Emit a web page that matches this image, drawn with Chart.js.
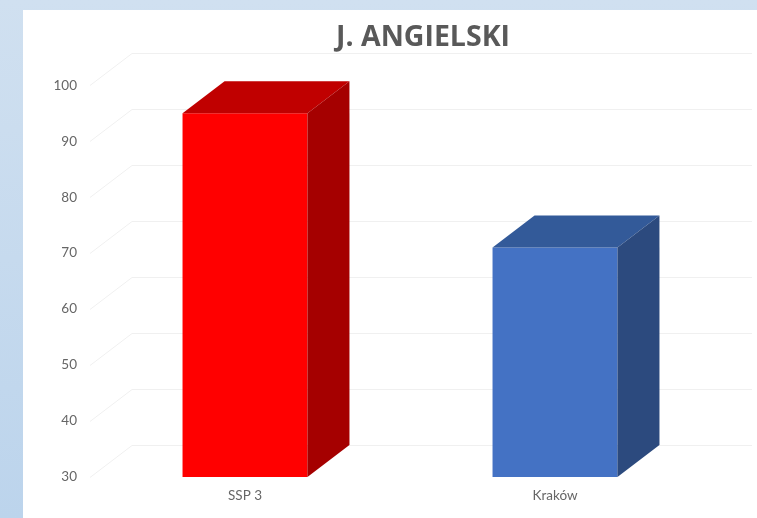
<!DOCTYPE html>
<html>
<head>
<meta charset="utf-8">
<script src="https://cdn.jsdelivr.net/npm/chart.js@4"></script>
<style>
  html, body { margin: 0; width: 757px; height: 518px; overflow: hidden; }
  body { background: linear-gradient(#d0e0f0, #bcd4ec); position: relative; }
  #panel { position: absolute; left: 23px; top: 10px; right: 0; bottom: 0; background: #fff; }
  #chart { position: absolute; left: 0; top: 0; }
</style>
</head>
<body>
<div id="panel"></div>
<canvas id="chart" width="757" height="518"></canvas>
<script>
const chartTitle = "J. ANGIELSKI";
const categories = ["SSP 3", "Kraków"];
const values = [95, 71];
const yTicks = [30, 40, 50, 60, 70, 80, 90, 100];

const frontColors = ["#ff0000", "#4472c4"];
const topColors = ["#c00000", "#335a99"];
const sideColors = ["#a50000", "#2c4a7e"];

// how far the back wall sits from the front plane
const depthX = 42;
const depthY = 32;

function face(ctx, points, color) {
  ctx.fillStyle = color;
  ctx.beginPath();
  points.forEach(p => ctx.lineTo(p[0], p[1]));
  ctx.closePath();
  ctx.fill();
}

// Fake 3D: back wall grid behind the bars, top and side faces next to them
const box3d = {
  id: "box3d",
  afterLayout(chart) {
    // centre the title over the front plane plus the depth
    chart.titleBlock.left = chart.chartArea.left;
    chart.titleBlock.right = chart.chartArea.right + depthX + 4;
  },
  beforeDatasetsDraw(chart) {
    const { ctx, chartArea, scales } = chart;
    ctx.save();
    ctx.strokeStyle = "#f0f0f0";
    ctx.lineWidth = 1;
    yTicks.forEach(v => {
      const y = Math.round(scales.y.getPixelForValue(v)) + 0.5;
      ctx.beginPath();
      ctx.moveTo(chartArea.left, y);
      ctx.lineTo(chartArea.left + depthX, y - depthY);
      ctx.lineTo(chartArea.right + depthX, y - depthY);
      ctx.stroke();
    });
    ctx.restore();
  },
  afterDatasetsDraw(chart) {
    const { ctx, chartArea } = chart;
    chart.getDatasetMeta(0).data.forEach((bar, i) => {
      const left = bar.x - bar.width / 2;
      const right = bar.x + bar.width / 2;
      // the bar base is the value 0, far under the axis minimum
      const base = Math.min(bar.base, chartArea.bottom);
      face(ctx, [[left, bar.y], [left + depthX, bar.y - depthY], [right + depthX, bar.y - depthY], [right, bar.y]], topColors[i]);
      face(ctx, [[right, bar.y], [right + depthX, bar.y - depthY], [right + depthX, base - depthY], [right, base]], sideColors[i]);
    });
  }
};

new Chart(document.getElementById("chart"), {
  type: "bar",
  data: {
    labels: categories,
    datasets: [{
      data: values,
      backgroundColor: frontColors,
      barPercentage: 0.403,
      categoryPercentage: 1
    }]
  },
  options: {
    responsive: false,
    animation: false,
    devicePixelRatio: 1,
    layout: { padding: { left: 0, right: 47, top: 0, bottom: 16 } },
    plugins: {
      legend: { display: false },
      tooltip: { enabled: false },
      title: {
        display: true,
        text: chartTitle,
        color: "#595959",
        font: { family: "Open Sans", size: 28.5, weight: "bold" },
        padding: { top: 21, bottom: 30 }
      }
    },
    scales: {
      x: {
        afterFit(scale) { scale.height = 25; },
        grid: { display: false, drawTicks: false },
        border: { display: false },
        ticks: { color: "#666666", font: { family: "Lato", size: 13.5 }, padding: 11 }
      },
      y: {
        min: yTicks[0],
        max: yTicks[yTicks.length - 1],
        afterBuildTicks(scale) { scale.ticks = yTicks.map(v => ({ value: v })); },
        afterFit(scale) { scale.width = 90; },
        grid: { display: false, drawTicks: false },
        border: { display: false },
        ticks: { color: "#666666", font: { family: "Lato", size: 13.5 }, padding: 13 }
      }
    }
  },
  plugins: [box3d]
});
</script>
</body>
</html>
